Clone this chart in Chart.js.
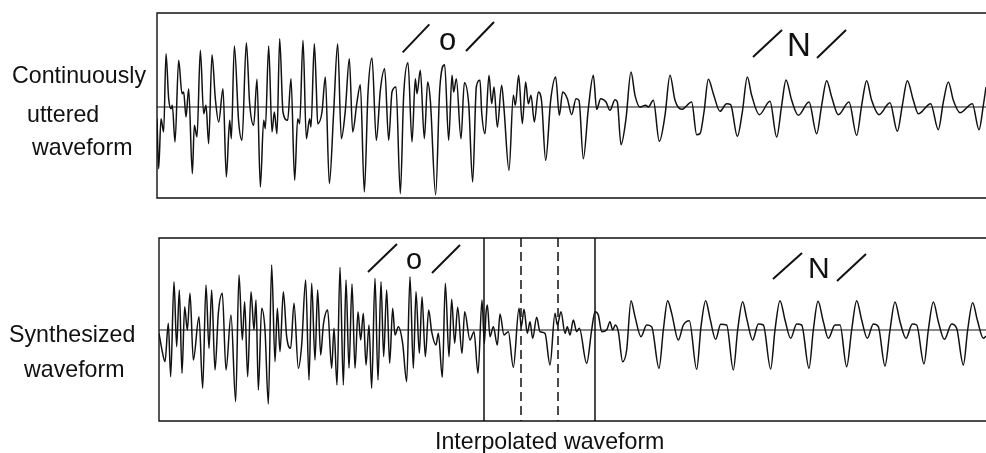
<!DOCTYPE html>
<html>
<head>
<meta charset="utf-8">
<title>Waveforms</title>
<script src="https://cdn.jsdelivr.net/npm/chart.js@4/dist/chart.umd.min.js"></script>
<style>
    html, body { margin: 0; padding: 0; background: #fff; }
    #page { position: relative; width: 986px; height: 453px; overflow: hidden; font-family: "Liberation Sans", sans-serif; color: #111; }
    canvas { position: absolute; left: 0; }
    .lbl { position: absolute; white-space: nowrap; line-height: 1; font-size: 23.2px; }
</style>
</head>
<body>
<div id="page">
    <canvas id="top-chart" width="986" height="226" style="top:0"></canvas>
    <canvas id="bottom-chart" width="986" height="227" style="top:226px"></canvas>

    <div class="lbl" style="left:12px;top:64px">Continuously</div>
    <div class="lbl" style="left:27px;top:103px">uttered</div>
    <div class="lbl" style="left:32px;top:136px">waveform</div>
    <div class="lbl" style="left:9px;top:323px">Synthesized</div>
    <div class="lbl" style="left:24px;top:358px">waveform</div>
    <div class="lbl" style="left:435px;top:430px">Interpolated waveform</div>
    <div class="lbl" style="left:439px;top:24px;font-size:31px">o</div>
    <div class="lbl" style="left:787px;top:28px;font-size:33px">N</div>
    <div class="lbl" style="left:406px;top:245px;font-size:29px">o</div>
    <div class="lbl" style="left:808px;top:253px;font-size:30px">N</div>
</div>

<script>
// Times are in samples (3 samples per pixel), amplitudes in the same small units
const topTimes = [0,5,12,20,27,35,42,46,54,65,75,80,87,95,106,112,120,130,140,147,155,165,175,185,198,208,218,223,232,245,255,268,278,290,300,310,320,325,335,345,352,360,368,378,392,402,413,422,428,438,448,458,462,472,478,482,495,505,517,530,542,553,565,577,587,600,610,622,633,645,658,670,683,695,705,717,730,740,753,765,775,780,790,802,812,820,836,848,863,875,885,890,898,912,922,935,947,958,969,974,984,996,1004,1011,1021,1034,1041,1056,1069,1075,1085,1096,1106,1114,1122,1132,1144,1154,1166,1181,1196,1207,1217,1231,1244,1257,1266,1279,1294,1309,1319,1331,1347,1359,1374,1381,1392,1407,1422,1434,1449,1466,1474,1489,1507,1524,1539,1554,1574,1604,1619,1629,1641,1654,1669,1689,1709,1721,1741,1756,1771,1784,1807,1839,1859,1874,1887,1904,1924,1956,1979,1994,2009,2024,2044,2076,2099,2114,2129,2144,2166,2199,2221,2236,2251,2269,2284,2321,2344,2359,2374,2389,2409,2446,2466,2479,2487];
const topAmps = [-35,-185,-35,-75,160,25,-5,5,-105,140,40,45,-30,55,-200,-55,-90,170,-20,5,-110,157,25,-45,55,-210,-40,-95,183,-45,-100,193,10,-55,83,-240,-40,-65,183,-75,-15,-80,205,-15,-40,85,-220,-35,-50,200,-95,-35,-60,190,55,-50,-15,90,-230,-15,190,-95,-10,145,-75,15,67,-255,43,147,-100,50,115,-100,45,60,-260,35,133,-105,85,40,110,-95,75,20,-263,50,127,-100,95,45,85,-95,73,10,-225,60,80,-15,-80,95,10,60,-60,65,-5,-190,35,5,95,-50,75,10,35,-45,45,15,-160,20,90,-25,45,25,-23,25,20,-155,-5,95,-7,25,15,-10,22,15,-113,-35,105,35,0,5,0,20,-103,-25,95,20,-7,15,-83,-80,-15,83,40,-13,10,7,-88,-15,90,35,-23,17,-90,5,81,20,-25,15,-80,5,79,30,-23,15,-85,5,79,20,-23,13,-73,5,79,20,-20,10,-68,15,75,20,-17,10,-68,5,60];

const bottomTimes = [0,8,18,28,35,45,53,61,69,77,85,93,103,120,131,141,150,158,168,178,190,201,216,230,240,250,257,266,276,285,291,298,308,318,328,338,348,355,363,373,383,395,405,418,428,440,450,458,468,476,485,493,506,518,525,534,543,553,561,570,579,588,597,605,613,621,630,638,648,657,666,674,683,692,701,708,718,731,743,753,763,771,781,789,799,809,818,831,838,850,859,870,878,887,896,909,917,933,945,957,969,976,981,985,993,1003,1015,1023,1035,1048,1063,1080,1087,1095,1105,1113,1121,1133,1143,1158,1173,1188,1195,1206,1218,1225,1233,1243,1253,1261,1283,1298,1308,1318,1328,1343,1353,1361,1369,1378,1391,1403,1416,1428,1446,1463,1478,1500,1513,1526,1538,1558,1573,1591,1613,1626,1640,1653,1670,1685,1703,1723,1736,1751,1763,1781,1798,1813,1835,1848,1863,1878,1895,1913,1928,1950,1963,1977,1993,2008,2028,2043,2063,2078,2093,2108,2125,2143,2158,2178,2193,2208,2223,2241,2260,2273,2295,2308,2323,2338,2356,2378,2393,2413,2426,2441,2455,2473,2481];
const bottomAmps = [-10,-55,-95,20,-140,145,-50,120,-130,70,0,110,-90,40,-175,135,-55,120,-120,50,110,-120,45,-215,165,-30,85,-140,115,0,90,-180,65,0,-222,195,-95,65,-65,115,-20,-55,80,-115,-45,150,-150,140,-90,120,-75,15,60,-115,5,-165,188,-165,150,-115,138,-115,55,-30,50,-105,15,-175,155,-150,145,-80,120,-100,65,-15,10,-40,-155,160,-115,115,-70,100,-80,60,-5,-45,-10,-142,140,-80,92,-40,68,-70,55,-30,-5,-130,90,-40,50,75,-20,10,-45,48,-15,-5,-112,65,10,62,-10,25,-25,38,-5,-10,-105,50,15,55,-10,10,-15,30,-5,5,-100,0,55,45,-5,0,25,0,15,-5,-95,-60,88,40,-20,15,10,-115,0,88,50,-30,15,28,-118,10,88,35,-28,17,15,-120,0,85,35,-30,18,15,-117,0,88,30,-25,18,15,-115,0,86,25,-25,15,15,-110,0,88,30,-25,18,10,-108,0,84,25,-25,18,15,-102,0,84,25,-28,18,5,-105,0,82,30,-25,-18];

// Slash marks around the phoneme labels: start and end of each stroke
const topSlashes = [[737,164,817,248],[927,168,1011,255],[1788,150,1875,231],[1980,147,2067,231]];
const bottomSlashes = [[627,174,714,258],[819,171,903,255],[1842,153,1929,231],[2034,147,2121,228]];

// Edges of the interpolated stretch
const boundaryTimes = [975,1308];
const pitchTimes = [1086,1197];

const inkColor = "#111";

function toPoints(times, amps) {
    return times.map((t, i) => ({ x: t, y: amps[i] }));
}

function lineSet(points, width, extra) {
    return Object.assign({ data: points, borderColor: inkColor, borderWidth: width, pointRadius: 0, tension: 0 }, extra);
}

// Open frame: top, left and bottom, nothing on the right
const framePlugin = {
    id: "frame",
    beforeDatasetsDraw(chart) {
        const { ctx, chartArea: a } = chart;
        ctx.save();
        ctx.strokeStyle = inkColor;
        ctx.lineWidth = 1.4;
        ctx.beginPath();
        ctx.moveTo(a.right, a.top);
        ctx.lineTo(a.left, a.top);
        ctx.lineTo(a.left, a.bottom);
        ctx.lineTo(a.right, a.bottom);
        ctx.stroke();
        ctx.restore();
    },
};

function drawWave(id, times, amps, slashes, xMax, yMax, yMin, padding, markers) {
    const datasets = [
        lineSet(toPoints(times, amps), 1.5, { cubicInterpolationMode: "monotone" }),
        lineSet([{ x: 0, y: 0 }, { x: xMax, y: 0 }], 1),
    ];
    slashes.forEach((s) => {
        datasets.push(lineSet([{ x: s[0], y: s[1] }, { x: s[2], y: s[3] }], 2));
    });
    if (markers) {
        boundaryTimes.forEach((t) => {
            datasets.push(lineSet([{ x: t, y: yMax }, { x: t, y: yMin }], 1.5));
        });
        pitchTimes.forEach((t) => {
            datasets.push(lineSet([{ x: t, y: yMax }, { x: t, y: yMin }], 1.5, { borderDash: [9, 5] }));
        });
    }

    new Chart(document.getElementById(id), {
        type: "line",
        data: { datasets },
        options: {
            responsive: false,
            animation: false,
            layout: { padding },
            plugins: { legend: { display: false }, tooltip: { enabled: false } },
            scales: {
                x: { type: "linear", min: 0, max: xMax, display: false },
                y: { min: yMin, max: yMax, display: false },
            },
        },
        plugins: [framePlugin],
    });
}

drawWave("top-chart", topTimes, topAmps, topSlashes, 2487, 282, -273, { left: 157, top: 13, right: 0, bottom: 28 }, false);
drawWave("bottom-chart", bottomTimes, bottomAmps, bottomSlashes, 2481, 276, -273, { left: 159, top: 12, right: 0, bottom: 32 }, true);
</script>
</body>
</html>
